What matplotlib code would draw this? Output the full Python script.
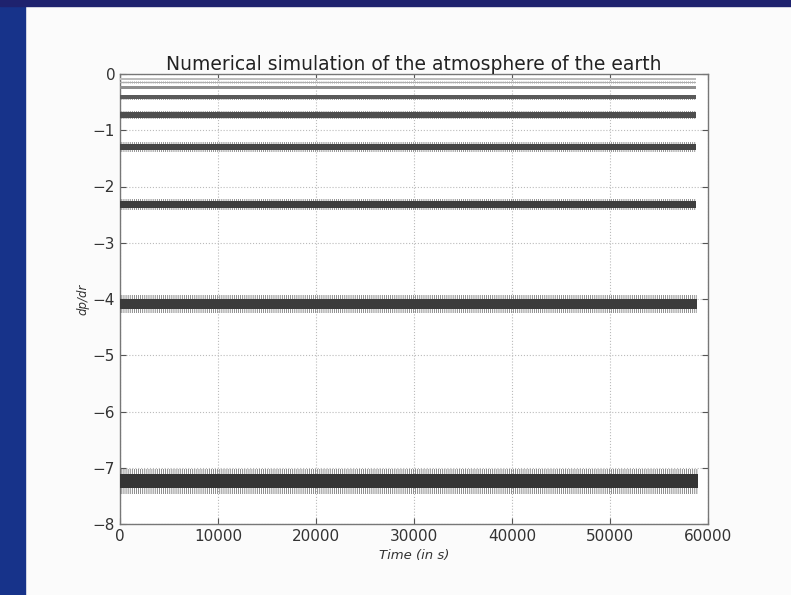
import matplotlib
matplotlib.use("Agg")
import matplotlib.pyplot as plt
from matplotlib.patches import Rectangle
import numpy as np

# ---- data ----
time_knots = [0, 10000, 20000, 30000, 40000, 50000, 58800]
levels = [-0.09, -0.15, -0.24, -0.41, -0.73, -1.30, -2.32, -4.09, -7.24]
core_half = [0.014, 0.014, 0.02, 0.03, 0.048, 0.055, 0.06, 0.095, 0.125]
spike_half = [0.022, 0.022, 0.032, 0.045, 0.075, 0.085, 0.10, 0.165, 0.22]
end_time = [58800, 58800, 58800, 58800, 58800, 58800, 58800, 58900, 59000]
band_colors = ['#bdbdbd', '#adadad', '#8f8f8f', '#5a5a5a', '#4e4e4e',
               '#454545', '#3e3e3e', '#3b3b3b', '#343434']
x_ticks = [0, 10000, 20000, 30000, 40000, 50000, 60000]
y_ticks = [0, -1, -2, -3, -4, -5, -6, -7, -8]

plt.rcParams['hatch.linewidth'] = 0.5

fig = plt.figure(figsize=(7.91, 5.95), dpi=100)
fig.patch.set_facecolor('#fbfbfb')
# photo background (slide) strips
fig.patches.append(Rectangle((0, 0), 25 / 791, 1, transform=fig.transFigure,
                             color='#17338a', zorder=-5))
fig.patches.append(Rectangle((0, 1 - 6 / 595), 1, 6 / 595, transform=fig.transFigure,
                             color='#1e226e', zorder=-5))

ax = fig.add_axes([120 / 791, 1 - 524 / 595, 588 / 791, 450 / 595])
ax.set_facecolor('white')

for lev, ch, sh, te, col in zip(levels, core_half, spike_half, end_time, band_colors):
    xs = np.array([t for t in time_knots if t < te] + [te])
    ax.fill_between(xs, lev - sh, lev + sh, facecolor='none', edgecolor=col,
                    hatch='||||||||', linewidth=0, alpha=0.8, zorder=3)
    ax.fill_between(xs, lev - ch, lev + ch, color=col, linewidth=0, zorder=4)

ax.set_xlim(0, 60000)
ax.set_ylim(-8, 0)
ax.set_xticks(x_ticks)
ax.set_yticks(y_ticks)
ax.set_yticklabels(['0', '\u22121', '\u22122', '\u22123', '\u22124', '\u22125',
                    '\u22126', '\u22127', '\u22128'])
ax.tick_params(direction='in', top=True, right=True, labelsize=11,
               colors='#555555', labelcolor='#333333', length=4)
ax.grid(True, linestyle=':', color='#bbbbbb', linewidth=0.8)
for s in ax.spines.values():
    s.set_color('#777777')
    s.set_linewidth(1.0)

ax.set_title('Numerical simulation of the atmosphere of the earth',
             fontsize=13.5, color='#222222', pad=3)
ax.set_xlabel('Time (in s)', fontsize=9.5, style='italic', color='#333333')
ax.set_ylabel('dp/dr', fontsize=8.5, style='italic', color='#333333', labelpad=2)

fig.savefig('out.png', dpi=100)
